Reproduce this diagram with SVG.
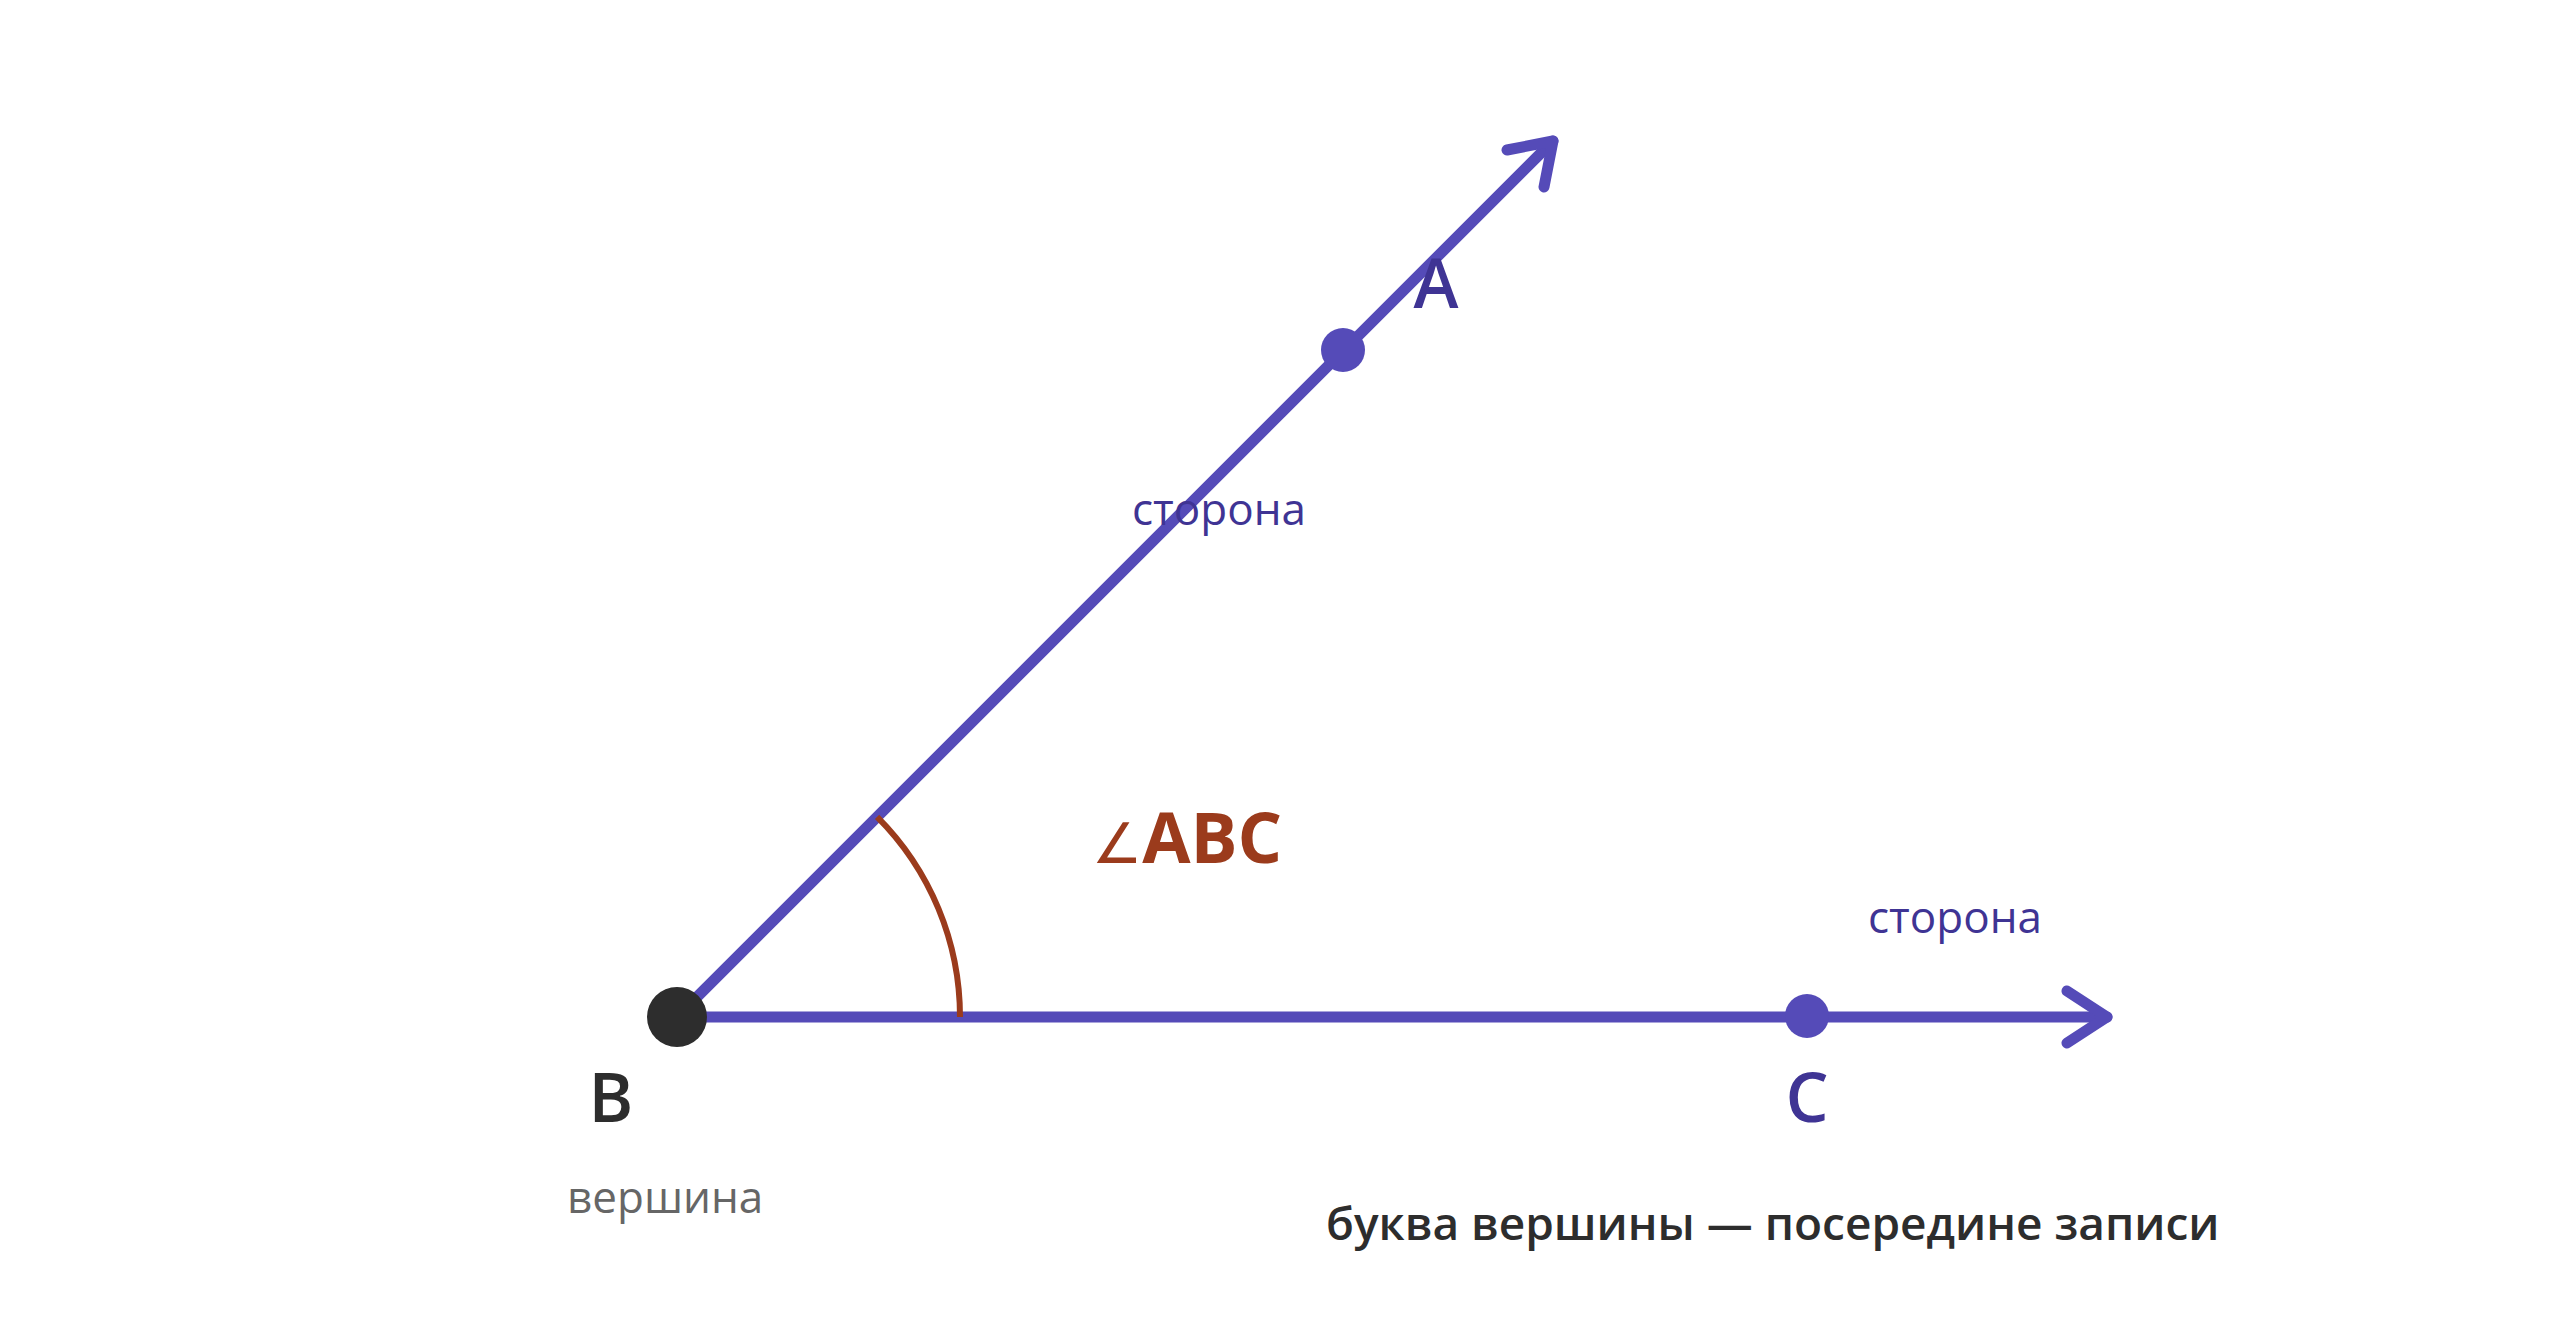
<svg xmlns="http://www.w3.org/2000/svg" width="2560" height="1318" viewBox="0 0 2560 1318">
<defs>
<style>
.ray{stroke:#554bb8;stroke-width:11;stroke-linecap:round;stroke-linejoin:round;fill:none}
.pt{fill:#554bb8}
.lbl{font-family:"Open Sans","Liberation Sans",sans-serif;font-weight:600;font-size:68px;text-anchor:middle}
.side{font-family:"Open Sans","Liberation Sans",sans-serif;font-size:44px;fill:#3f3494}
.note{font-family:"Open Sans","Liberation Sans",sans-serif;font-size:44px;fill:#666666}
.cap{font-family:"Open Sans","Liberation Sans",sans-serif;font-weight:600;font-size:46px;fill:#2d2d2d}
</style>
</defs>
<rect width="2560" height="1318" fill="#ffffff"/>
<g id="connectors">
<line class="ray" x1="677" y1="1017" x2="1553" y2="141"/>
<polyline class="ray" points="1507,150 1553,141 1544,187"/>
<line class="ray" x1="677" y1="1017" x2="2107" y2="1017"/>
<polyline class="ray" points="2067,991 2107,1017 2067,1043"/>
<path id="angle-arc" d="M877.1,816.9 A283,283 0 0 1 960,1017" fill="none" stroke="#9b3b1c" stroke-width="6"/>
</g>
<g id="node-B">
<circle cx="677" cy="1017" r="30" fill="#2d2d2d"/>
<text class="lbl" x="611" y="1122" fill="#2d2d2d">B</text>
<text class="note" x="567" y="1213">вершина</text>
</g>
<g id="node-A">
<circle class="pt" cx="1343" cy="350" r="22"/>
<text class="lbl" x="1436" y="308" fill="#3f3494">A</text>
</g>
<g id="node-C">
<circle class="pt" cx="1807" cy="1016" r="22"/>
<text class="lbl" x="1807" y="1122" fill="#3f3494">C</text>
</g>
<g id="labels">
<text class="side" x="1132" y="525">сторона</text>
<text class="side" x="1868" y="933">сторона</text>
<text x="1092" y="863" font-family="'Open Sans','DejaVu Sans',sans-serif" font-size="70" fill="#9b3b1c"><tspan font-family="'DejaVu Sans',sans-serif" font-weight="400" font-size="56">∠</tspan><tspan font-weight="700">ABC</tspan></text>
<text class="cap" x="1326" y="1240">буква вершины — посередине записи</text>
</g>
</svg>
